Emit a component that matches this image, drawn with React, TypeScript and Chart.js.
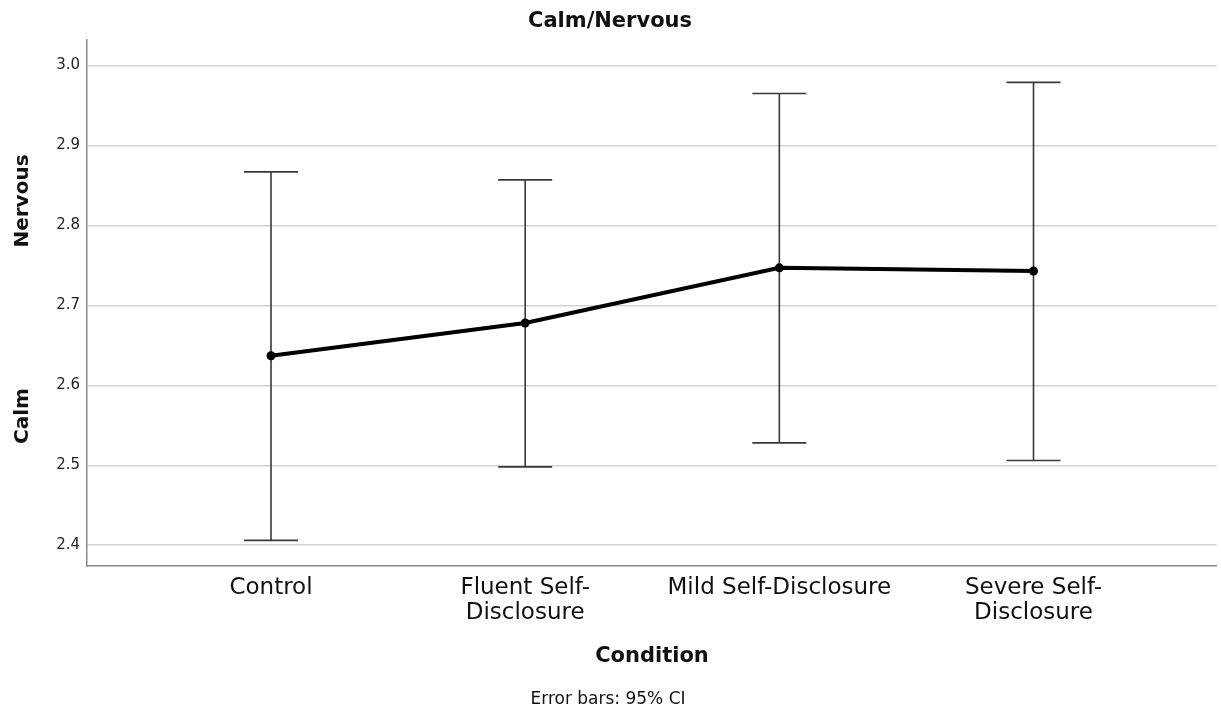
import React, { useEffect, useRef } from "react";
import { Chart, registerables } from "chart.js";

Chart.register(...registerables);

const categories: string[][] = [["Control"], ["Fluent Self-", "Disclosure"], ["Mild Self-Disclosure"], ["Severe Self-", "Disclosure"]];
const means: number[] = [2.637, 2.678, 2.747, 2.743];
const ciUpper: number[] = [2.867, 2.857, 2.965, 2.979];
const ciLower: number[] = [2.406, 2.498, 2.528, 2.506];
const yTicks: number[] = [2.4, 2.5, 2.6, 2.7, 2.8, 2.9, 3.0];
const chartTitle = "Calm/Nervous";
const xTitle = "Condition";
const footnote = "Error bars: 95% CI";
const yTopLabel = "Nervous";
const yBottomLabel = "Calm";

const FONT = "'DejaVu Sans', sans-serif";

const errorBarPlugin = {
  id: "errorBars",
  beforeDatasetsDraw(chart: any) {
    const { ctx, scales } = chart;
    const xs = scales.x;
    const ys = scales.y;
    ctx.save();
    ctx.strokeStyle = "#3a3a3a";
    ctx.lineWidth = 1.6;
    means.forEach((_, i) => {
      const x = xs.getPixelForValue(i);
      const yt = ys.getPixelForValue(ciUpper[i]);
      const yb = ys.getPixelForValue(ciLower[i]);
      const hw = 27;
      ctx.beginPath();
      ctx.moveTo(x, yt);
      ctx.lineTo(x, yb);
      ctx.moveTo(x - hw, yt);
      ctx.lineTo(x + hw, yt);
      ctx.moveTo(x - hw, yb);
      ctx.lineTo(x + hw, yb);
      ctx.stroke();
    });
    ctx.restore();
  },
};

const textPlugin = {
  id: "extraText",
  afterDraw(chart: any) {
    const { ctx } = chart;
    ctx.save();
    ctx.fillStyle = "#111";
    ctx.textAlign = "center";
    ctx.textBaseline = "middle";
    ctx.font = `bold 21px ${FONT}`;
    ctx.fillText(chartTitle, 610, 22);
    ctx.font = `bold 21px ${FONT}`;
    ctx.fillText(xTitle, 652, 657);
    ctx.font = `17px ${FONT}`;
    ctx.fillText(footnote, 608, 700);
    ctx.font = `bold 20px ${FONT}`;
    ctx.save();
    ctx.translate(23, 201);
    ctx.rotate(-Math.PI / 2);
    ctx.fillText(yTopLabel, 0, 0);
    ctx.restore();
    ctx.save();
    ctx.translate(23, 416);
    ctx.rotate(-Math.PI / 2);
    ctx.fillText(yBottomLabel, 0, 0);
    ctx.restore();
    ctx.restore();
  },
};

export default function App() {
  const ref = useRef<HTMLCanvasElement | null>(null);
  useEffect(() => {
    if (!ref.current) return;
    const chart = new Chart(ref.current, {
      type: "line",
      data: {
        datasets: [
          {
            data: means.map((m, i) => ({ x: i, y: m })),
            borderColor: "#000",
            backgroundColor: "#000",
            borderWidth: 4,
            pointRadius: 4.5,
            pointBorderWidth: 0,
            pointBackgroundColor: "#000",
            tension: 0,
          },
        ],
      },
      options: {
        animation: false,
        responsive: true,
        maintainAspectRatio: false,
        layout: { padding: { top: 40, right: 4, left: 0, bottom: 0 } },
        plugins: { legend: { display: false }, tooltip: { enabled: false }, title: { display: false } },
        scales: {
          x: {
            type: "linear",
            min: -0.724,
            max: 3.72,
            afterBuildTicks: (s: any) => {
              s.ticks = categories.map((_, i) => ({ value: i }));
            },
            afterFit: (s: any) => {
              s.height = 149;
            },
            ticks: {
              autoSkip: false,
              maxRotation: 0,
              padding: 9,
              color: "#111",
              font: { family: FONT, size: 23, lineHeight: 1.09 },
              callback: (v: any) => categories[Math.round(Number(v))] ?? "",
            },
            grid: { display: false, drawTicks: false },
            border: { display: true, color: "#888", width: 1.5 },
          },
          y: {
            min: 2.374,
            max: 3.032,
            afterBuildTicks: (s: any) => {
              s.ticks = yTicks.map((v) => ({ value: v }));
            },
            afterFit: (s: any) => {
              s.width = 87;
            },
            ticks: {
              padding: 7,
              color: "#222",
              font: { family: FONT, size: 15 },
              callback: (v: any) => Number(v).toFixed(1),
            },
            grid: { color: "#d2d2d2", lineWidth: 1.5, drawTicks: false },
            border: { display: true, color: "#888", width: 1.5 },
          },
        },
      },
      plugins: [errorBarPlugin, textPlugin],
    });
    return () => chart.destroy();
  }, []);
  return (
    <div style={{ position: "fixed", left: 0, top: 0, width: 1221, height: 715, background: "#fff" }}>
      <canvas ref={ref} />
    </div>
  );
}
